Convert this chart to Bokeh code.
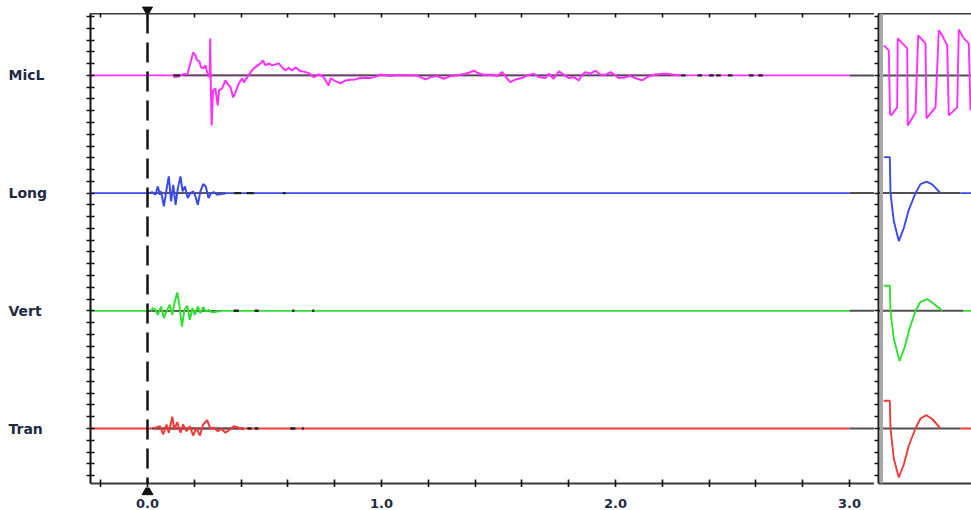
from bokeh.plotting import figure
from bokeh.models import Range1d, FixedTicker, LinearAxis, Span, Spacer
from bokeh.layouts import row, column
from bokeh.core.properties import value
from bokeh.embed import file_html
from bokeh.resources import INLINE

# ---------------- data ----------------
channels = ["MicL", "Long", "Vert", "Tran"]
colors = ["#ff30ff", "#3a4ae8", "#30e030", "#f03a3a"]
trigger_t = 0.0
record_end = 3.0
x_major = [0.0, 1.0, 2.0, 3.0]
x_major_labels = ["0.0", "1.0", "2.0", "3.0"]
x_minor = [-0.2, 0.0, 0.2, 0.4, 0.6, 0.8, 1.0, 1.2, 1.4, 1.6, 1.8, 2.0,
           2.2, 2.4, 2.6, 2.8, 3.0]

micl_t = [0.111, 0.133, 0.150, 0.171, 0.184, 0.195, 0.205, 0.212, 0.222, 0.229, 0.238, 0.248,
          0.255, 0.266, 0.268, 0.270, 0.274, 0.280, 0.290, 0.300, 0.306, 0.319, 0.333, 0.341,
          0.355, 0.366, 0.376, 0.390, 0.405, 0.412, 0.426, 0.440, 0.454, 0.471, 0.483, 0.494,
          0.504, 0.518, 0.533, 0.547, 0.561, 0.576, 0.590, 0.604, 0.618, 0.632, 0.654, 0.675,
          0.689, 0.711, 0.732, 0.753, 0.768, 0.774, 0.782, 0.803, 0.825, 0.846, 0.868, 0.889,
          0.910, 0.953, 0.982, 0.996, 1.038, 1.070, 1.110, 1.150, 1.188, 1.209, 1.238, 1.266,
          1.295, 1.323, 1.352, 1.373, 1.395, 1.409, 1.437, 1.473, 1.494, 1.516, 1.537, 1.551,
          1.573, 1.601, 1.622, 1.651, 1.672, 1.701, 1.715, 1.736, 1.758, 1.779, 1.801, 1.822,
          1.843, 1.857, 1.872, 1.893, 1.915, 1.936, 1.957, 1.979, 2.000, 2.014, 2.036, 2.064,
          2.092, 2.114, 2.135, 2.164, 2.192, 2.221, 2.249, 2.280]
micl_a = [-1.7, -1.0, 1.0, 1.7, 13, 23, 20, 15, 14, 8, 7, 10,
          3, -2, 37, -2, -50, -15, -13, -30, -15, -13, -5, -8,
          -12, -22, -17, -8, -3, -7, -2, 3, 7, 10, 12, 15,
          10, 12, 10, 11, 12, 8, 5, 7.7, 5, 8, 4.3, 3.3,
          2.3, -1.7, 1.0, -1.7, -8, -10, -3, -5.7, -8, -5, -4.3, -4,
          -2.3, -2.7, -0.7, 1.0, -0.7, 0.5, 0, 0, -4, -1.7, -0.7, -3.3,
          -0.7, 0, 1.3, 2.7, 4.7, 2.7, 0.7, 0.7, -0.7, 3.3, -3.3, -6.7,
          -4, -2.7, 0, 1.7, -1.7, -2.7, 1.7, -3.3, 4, 0.7, -2.7, -1.7,
          -5, 0.7, 3.3, 1.7, 4.7, 0.7, 0.7, 3.3, 0, -2.7, -2, -0.7,
          -3.3, -5, -1.7, 0.7, 1.3, 1.7, 0.7, 0]

long_t = [0.006, 0.020, 0.034, 0.044, 0.053, 0.058, 0.070, 0.081, 0.091, 0.101, 0.110, 0.120,
          0.130, 0.141, 0.150, 0.160, 0.172, 0.184, 0.195, 0.205, 0.215, 0.226, 0.238, 0.249,
          0.261, 0.272, 0.283, 0.298, 0.312, 0.333]
long_a = [0, 1, -1.7, 6.7, -1.7, 1.7, -13.3, 3.3, 16.7, -8.3, 8.3, -11.7,
          5, 16.7, 1.7, 6.7, -5, 0, 1.7, -3.3, -11.7, 1.7, 9, 6.7,
          -5, 0, 1, -1.7, -1, -0.3]

vert_t = [0.013, 0.024, 0.034, 0.044, 0.058, 0.070, 0.084, 0.095, 0.106, 0.115, 0.127, 0.137,
          0.147, 0.158, 0.170, 0.181, 0.192, 0.202, 0.215, 0.226, 0.238, 0.249, 0.262, 0.276,
          0.291, 0.312]
vert_a = [0, 2.7, 1, -4, 4.3, -7.3, 1, 6, -4, 7.7, 18.3, 4.3,
          -15.7, 1, 5, -9, 2.7, -4, 4.3, -2.3, 3.7, -0.7, 1, -1.7,
          -1, -0.3]

tran_t = [0.027, 0.053, 0.067, 0.081, 0.091, 0.106, 0.115, 0.127, 0.141, 0.152, 0.167, 0.181,
          0.195, 0.209, 0.224, 0.238, 0.255, 0.269, 0.283, 0.301, 0.315, 0.333, 0.352, 0.369,
          0.390, 0.412]
tran_a = [0, 2.3, -6, 4, -4.3, 11.7, -1, 6.3, -4.3, 4, -2.7, 2.3,
          -7, 0.7, -7, 4, 8.3, -0.3, 0.7, -2.7, -0.3, -4.3, -1, 2.3,
          0.7, -1]

# quiet zero-line sections showing the dark baseline under the trace
base_start = [0.15, 0.0, 0.0, 0.02]
base_end = [2.28, 0.333, 0.312, 0.412]

# short dark marks on the zero line (start, end)
micl_m0 = [0.110, 2.280, 2.350, 2.400, 2.430, 2.480, 2.570, 2.610]
micl_m1 = [0.140, 2.300, 2.370, 2.420, 2.450, 2.500, 2.590, 2.630]
long_m0 = [0.370, 0.423, 0.578]
long_m1 = [0.400, 0.455, 0.590]
vert_m0 = [0.368, 0.458, 0.618, 0.703]
vert_m1 = [0.390, 0.475, 0.628, 0.713]
tran_m0 = [0.427, 0.458, 0.610, 0.660]
tran_m1 = [0.445, 0.474, 0.632, 0.668]

# zoom panel (right) traces, time in ms
zm_micl_t = [4.3, 9.3, 10.5, 11.7, 17.7, 18.2, 27.7, 28.3, 36, 38.7, 46, 47, 56, 59.3, 62.7,
             67.7, 69.3, 77.7, 79.3, 84.3, 89.3, 91]
zm_micl_a = [30, 25, -38, -40, -32, 37, 27, -50, -37, 40, 32, -43, -32, 45, 40,
             30, -40, -32, 46, 37, 32, -35]
zm_long_t = [4.3, 10.3, 11, 14.3, 19.3, 24.3, 29.3, 36, 41, 47, 52.7, 61]
zm_long_a = [36, 36, 0, -28, -48, -35, -16.7, 0, 9, 11.4, 8.7, 0]
zm_vert_t = [4.3, 10.3, 11, 14.3, 20, 25, 30, 36, 41, 47.7, 53, 62.7]
zm_vert_a = [25, 25, 0, -28, -50, -37, -18, 0, 9, 11.7, 8, 0]
zm_tran_t = [4.3, 10.3, 11, 14.3, 19.3, 24.3, 29.3, 36, 41, 47, 52.7, 61]
zm_tran_a = [27.7, 27.7, 0, -30, -49, -36, -17, 0, 10, 13.3, 9.5, 0]
zm_quiet_end = [93, 81, 84, 81]

# ---------------- layout / style ----------------
SPACING = 117.7
TICK = SPACING / 10
offsets = [3 * SPACING, 2 * SPACING, SPACING, 0.0]
yr = Range1d(-55, 415)
X0, X1 = -0.2436, 3.1068
xr = Range1d(X0, X1)

label_color = "#1f2a44"
axis_col = "#3a3a3a"
base_col = "#505050"
FONT = "DejaVu Sans"

LEFT_W, MAIN_W, ZOOM_W = 86, 788, 97
TOP_H, MAIN_H, BOT_H = 13, 474, 23

def bare(width, height, x_range, y_range, **kw):
    f = figure(width=width, height=height, x_range=x_range, y_range=y_range,
               output_backend="svg", toolbar_location=None,
               x_axis_type=None, y_axis_type=None,
               min_border_left=kw.get("l", 0), min_border_right=0,
               min_border_top=kw.get("t", 0), min_border_bottom=kw.get("b", 0))
    f.grid.visible = False
    f.outline_line_color = None
    return f

# channel-name column
p0 = bare(LEFT_W, MAIN_H, Range1d(0, LEFT_W), yr, b=4)
p0.text(x=[8] * 4, y=offsets, text=channels, text_align="left", text_baseline="middle",
        text_font=value(FONT), text_font_style="bold", text_font_size=value("14px"),
        text_color=label_color)

# main panel
p = figure(width=MAIN_W, height=MAIN_H, x_range=xr, y_range=yr,
           output_backend="svg", toolbar_location=None,
           min_border_left=4, min_border_right=0, min_border_top=0, min_border_bottom=4)
p.grid.visible = False
p.outline_line_color = None

xt = FixedTicker(ticks=[], minor_ticks=x_minor)
yt = FixedTicker(ticks=[], minor_ticks=[k * TICK for k in range(-4, 36)])

def style_axis(ax, ticker, t_in, t_out, col, width=2):
    ax.ticker = ticker
    ax.axis_line_color = col
    ax.axis_line_width = width
    ax.major_tick_in = 0
    ax.major_tick_out = 0
    ax.minor_tick_in = t_in
    ax.minor_tick_out = t_out
    ax.minor_tick_line_color = "#111111"
    ax.minor_tick_line_width = 1.6
    ax.major_label_standoff = 0

style_axis(p.xaxis[0], xt, 4, 4, axis_col)
top = LinearAxis()
style_axis(top, xt, 4, 0, axis_col)
p.add_layout(top, "above")
style_axis(p.yaxis[0], yt, 4, 4, "#111111")

traces = [(micl_t, micl_a), (long_t, long_a), (vert_t, vert_a), (tran_t, tran_a)]
marks = [(micl_m0, micl_m1), (long_m0, long_m1), (vert_m0, vert_m1), (tran_m0, tran_m1)]

for i in range(4):
    off = offsets[i]
    c = colors[i]
    p.line([X0, record_end], [off, off], line_color=c, line_width=1.8)
    p.segment(x0=[base_start[i]], y0=[off], x1=[base_end[i]], y1=[off],
              line_color=base_col, line_width=1.8)
    t, a = traces[i]
    p.line(t, [off + v for v in a], line_color=c, line_width=2)
    m0, m1 = marks[i]
    p.segment(x0=m0, y0=[off] * len(m0), x1=m1, y1=[off] * len(m1),
              line_color="#222222", line_width=2.4)
    p.segment(x0=[record_end], y0=[off], x1=[X1], y1=[off], line_color=base_col, line_width=2)

p.add_layout(Span(location=trigger_t, dimension="height", line_color="#111111",
                  line_width=2.5, line_dash="20 9"))

# right zoom panel
p2 = figure(width=ZOOM_W, height=MAIN_H, x_range=Range1d(-1, 92), y_range=yr,
            output_backend="svg", toolbar_location=None,
            min_border_left=4, min_border_right=0, min_border_top=0, min_border_bottom=4)
p2.grid.visible = False
p2.outline_line_color = None
empty = FixedTicker(ticks=[], minor_ticks=[])
style_axis(p2.xaxis[0], empty, 0, 0, axis_col)
top2 = LinearAxis()
style_axis(top2, empty, 0, 0, axis_col)
p2.add_layout(top2, "above")
style_axis(p2.yaxis[0], yt, 0, 4, "#222222")
p2.add_layout(Span(location=2, dimension="height", line_color="#a8a8a8", line_width=3))

ztraces = [(zm_micl_t, zm_micl_a), (zm_long_t, zm_long_a),
           (zm_vert_t, zm_vert_a), (zm_tran_t, zm_tran_a)]
for i in range(4):
    off = offsets[i]
    c = colors[i]
    p2.segment(x0=[-1], y0=[off], x1=[zm_quiet_end[i]], y1=[off], line_color=base_col, line_width=2)
    if zm_quiet_end[i] < 92:
        p2.segment(x0=[zm_quiet_end[i]], y0=[off], x1=[93], y1=[off], line_color=c, line_width=1.8)
    t, a = ztraces[i]
    p2.line(t, [off + v for v in a], line_color=c, line_width=1.9)

# top strip with the trigger marker
pt = bare(MAIN_W, TOP_H, xr, Range1d(0, TOP_H), l=4)
pt.scatter(x=[trigger_t], y=[3.5], marker="inverted_triangle", size=10,
           fill_color="#111111", line_color="#111111")

# bottom strip: trigger marker and time labels
pb = bare(MAIN_W, BOT_H, xr, Range1d(0, BOT_H), l=4)
pb.scatter(x=[trigger_t], y=[19], marker="triangle", size=11,
           fill_color="#111111", line_color="#111111")
pb.text(x=x_major, y=[7] * len(x_major), text=x_major_labels, text_align="center",
        text_baseline="middle", text_font=value(FONT), text_font_style="bold",
        text_font_size=value("13px"), text_color=label_color)

layout = column(
    row(Spacer(width=LEFT_W, height=TOP_H), pt),
    row(p0, p, p2),
    row(Spacer(width=LEFT_W, height=BOT_H), pb),
)
open("out.html", "w").write(file_html(layout, INLINE))
